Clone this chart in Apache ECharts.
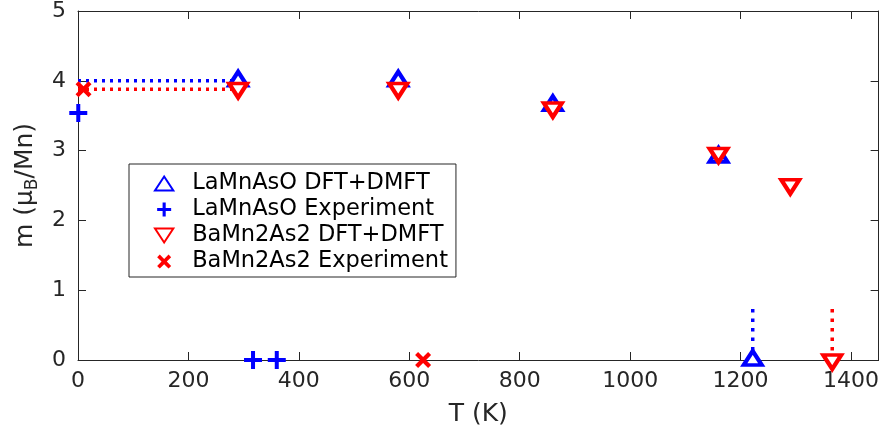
<!DOCTYPE html>
<html><head><meta charset="utf-8">
<script src="https://cdn.jsdelivr.net/npm/echarts@6/dist/echarts.min.js"></script>
<style>html,body{margin:0;padding:0;background:#fff}#c{width:882px;height:432px}</style>
</head><body><div id="c"></div>
<script>
// ---- data ----
const laDftT = [290, 580, 860, 1160, 1222];
const laDftM = [4.0, 4.0, 3.65, 2.91, 0];
const laExpT = [0.5, 317, 360];
const laExpM = [3.54, 0, 0];
const baDftT = [290, 580, 860, 1160, 1290, 1366];
const baDftM = [3.89, 3.89, 3.61, 2.96, 2.51, 0];
const baExpT = [10, 625];
const baExpM = [3.88, 0];
// dotted guide lines
const laGuideT = [0, 290];
const laGuideM = [4.0, 4.0];
const baGuideT = [0, 290];
const baGuideM = [3.88, 3.88];
const laTcT = [1222, 1222];
const laTcM = [0, 0.75];
const baTcT = [1366, 1366];
const baTcM = [0, 0.75];
const xTicks = [0, 200, 400, 600, 800, 1000, 1200, 1400];
const yTicks = [0, 1, 2, 3, 4, 5];
const names = ['LaMnAsO DFT+DMFT', 'LaMnAsO Experiment', 'BaMn2As2 DFT+DMFT', 'BaMn2As2 Experiment'];

const zip = (a, b) => a.map((v, i) => [v, b[i]]);
const FONT = 'DejaVu Sans';
const AX = '#262626';
const BLUE = '#0000ff', RED = '#ff0000';
const UP = 'path://M8.5,0L17,13L0,13Z';
const DOWN = 'path://M0,0L17,0L8.5,13Z';
const PLUS = 'path://M7,0H11V7H18V11H11V18H7V11H0V7H7Z';
const CROSS = 'path://M3,0L8,5L13,0L16,3L11,8L16,13L13,16L8,11L3,16L0,13L5,8L0,3Z';

const chart = echarts.init(document.getElementById('c'), null, {renderer: 'canvas'});

const axisCommon = {
  axisLine: {show: true, onZero: false, lineStyle: {color: AX, width: 1}},
  axisTick: {show: true, inside: true, length: 8, lineStyle: {color: AX, width: 1}},
  splitLine: {show: false}
};

function guide(name, t, m, color, dash) {
  return {
    type: 'line', name: name, data: zip(t, m), symbol: 'none', silent: true,
    lineStyle: {color: color, width: 3.5, type: dash, cap: 'butt'}, z: 1, animation: false
  };
}

chart.setOption({
  animation: false,
  grid: {left: 78, right: 2, top: 11, bottom: 70, containLabel: false},
  xAxis: [
    Object.assign({}, axisCommon, {
      type: 'value', min: 0, max: 1450, interval: 200, position: 'bottom',
      name: 'T (K)', nameLocation: 'middle', nameGap: 42,
      nameTextStyle: {fontFamily: FONT, fontSize: 25, color: AX},
      axisLabel: {fontFamily: FONT, fontSize: 22, color: AX, margin: 10, showMaxLabel: false,
        formatter: v => xTicks.includes(v) ? String(v) : ''}
    }),
    Object.assign({}, axisCommon, {
      type: 'value', min: 0, max: 1450, interval: 200, position: 'top',
      axisLabel: {show: false}
    })
  ],
  yAxis: [
    Object.assign({}, axisCommon, {
      type: 'value', min: 0, max: 5, interval: 1, position: 'left',
      name: '{a|m (μ}{b|B}{a|/Mn)}', nameLocation: 'middle', nameGap: 37, nameRotate: 90,
      nameTextStyle: {fontFamily: FONT, color: AX,
        rich: {a: {fontFamily: FONT, fontSize: 25, color: AX, lineHeight: 32},
               b: {fontFamily: FONT, fontSize: 17, color: AX, lineHeight: 32, verticalAlign: 'bottom'}}},
      axisLabel: {fontFamily: FONT, fontSize: 22, color: AX, margin: 12,
        formatter: v => yTicks.includes(v) ? String(v) : ''}
    }),
    Object.assign({}, axisCommon, {
      type: 'value', min: 0, max: 5, interval: 1, position: 'right',
      axisLabel: {show: false}
    })
  ],
  legend: {
    data: names, orient: 'vertical', left: 129, top: 164,
    backgroundColor: '#fff', borderColor: AX, borderWidth: 1, borderRadius: 0,
    padding: [8, 8, 4, 25], itemWidth: 46, itemHeight: 14, itemGap: 3,
    selectedMode: false,
    textStyle: {fontFamily: FONT, fontSize: 22.5, color: '#000'}
  },
  series: [
    guide('laGuide', laGuideT, laGuideM, BLUE, [3, 5]),
    guide('baGuide', baGuideT, baGuideM, RED, [3, 5]),
    guide('laTc', laTcT, laTcM, BLUE, [3.5, 6]),
    guide('baTc', baTcT, baTcM, RED, [3.5, 6]),
    {
      type: 'scatter', name: names[0], data: zip(laDftT, laDftM), clip: false,
      symbol: UP, symbolSize: [18, 14], symbolOffset: [0, -2],
      itemStyle: {color: '#fff', borderColor: BLUE, borderWidth: 4, borderJoin: 'miter', opacity: 1}, z: 3
    },
    {
      type: 'scatter', name: names[1], data: zip(laExpT, laExpM), clip: false,
      symbol: PLUS, symbolSize: 18,
      itemStyle: {color: BLUE, borderWidth: 0, opacity: 1}, z: 3
    },
    {
      type: 'scatter', name: names[2], data: zip(baDftT, baDftM), clip: false,
      symbol: DOWN, symbolSize: [18, 14], symbolOffset: [0, 2],
      itemStyle: {color: '#fff', borderColor: RED, borderWidth: 4, borderJoin: 'miter', opacity: 1}, z: 4
    },
    {
      type: 'scatter', name: names[3], data: zip(baExpT, baExpM), clip: false,
      symbol: CROSS, symbolSize: 16,
      itemStyle: {color: RED, borderWidth: 0, opacity: 1}, z: 4
    }
  ]
});
</script></body></html>
